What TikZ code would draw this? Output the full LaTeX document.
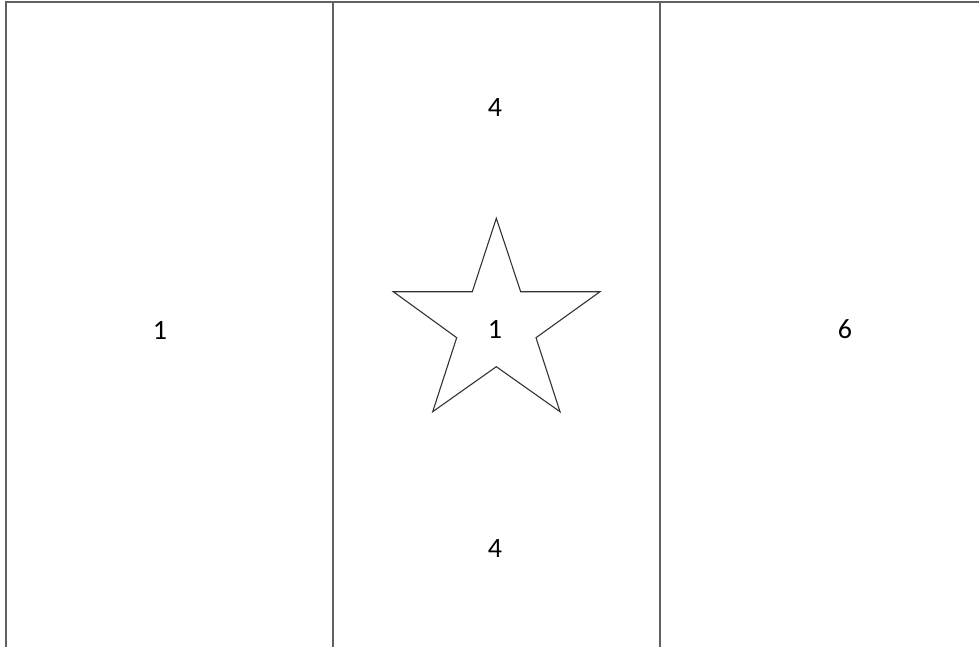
\documentclass[tikz,border=0pt]{standalone}
\usepackage{fontspec}
\setmainfont{Carlito}
\begin{document}
\begin{tikzpicture}[x=1pt,y=-1pt,
  frameline/.style={draw=black!62,line width=2pt},
  starline/.style={draw=black!80,line width=1.1pt,line join=miter},
  lbl/.style={font=\fontsize{28}{32}\selectfont,inner sep=0pt}]
\useasboundingbox (0,0) rectangle (979,647);
\fill[white] (0,0) rectangle (979,647);
% frame
\draw[frameline] (6,647) -- (6,2) -- (979,2);
\draw[frameline] (333,2) -- (333,647);
\draw[frameline] (660,2) -- (660,647);
% star
\draw[starline] (496.3,218.3) -- (520.7,291.7) -- (600,291.7) -- (536,337.7) -- (560,411.7)
  -- (496.3,366.7) -- (432.7,411.7) -- (456.7,337.7) -- (393.3,291.7) -- (472.3,291.7) -- cycle;
% labels
\node[lbl] (l1) at (160,330) {1};
\node[lbl] (t4) at (495,108) {4};
\node[lbl] (c1) at (495,329) {1};
\node[lbl] (b4) at (495,549) {4};
\node[lbl] (r6) at (845,329) {6};
\end{tikzpicture}
\end{document}
